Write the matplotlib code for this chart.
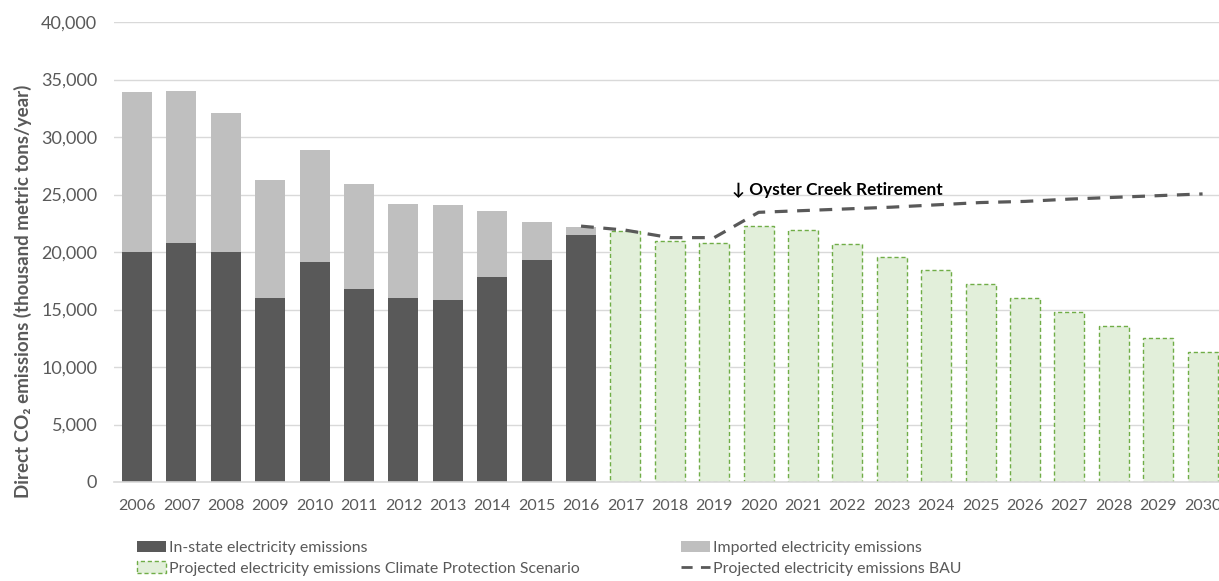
import matplotlib
matplotlib.use('Agg')
import matplotlib.pyplot as plt
from matplotlib.patches import Patch
from matplotlib.lines import Line2D
import numpy as np

plt.rcParams['font.family'] = ['Lato', 'DejaVu Sans']

# Datos (miles de toneladas metricas / año)
years = [str(y) for y in range(2006, 2031)]
hist_years = years[:11]
proj_years = years[11:]
in_state = [20000, 20750, 20000, 16000, 19100, 16800, 16000, 15800, 17850, 19300, 21500]
total_hist = [33900, 34000, 32100, 26300, 28900, 25900, 24150, 24050, 23550, 22650, 22200]
imported = [t - s for t, s in zip(total_hist, in_state)]
climate_scenario = [21800, 21000, 20750, 22300, 21900, 20700, 19600, 18400, 17200,
                    16000, 14800, 13600, 12500, 11300]
bau_years = years[10:]
bau = [22250, 21900, 21250, 21250, 23450, 23600, 23750, 23900, 24100, 24300,
       24400, 24600, 24750, 24900, 25050]

dark = '#595959'
light = '#BFBFBF'
green_fill = '#E2EFDA'
green_edge = '#70AD47'
text_col = '#595959'

fig = plt.figure(figsize=(12.19, 5.81), dpi=100)
ax = fig.add_axes([114 / 1219, 1 - 482 / 581, 1 - 114 / 1219, 460 / 581])

x_all = np.arange(len(years))
x_hist = x_all[:11]
x_proj = x_all[11:]
x_bau = x_all[10:]
w = 0.676

ax.bar(x_hist, in_state, w, color=dark, zorder=2)
ax.bar(x_hist, imported, w, bottom=in_state, color=light, zorder=2)
ax.bar(x_proj, climate_scenario, w, facecolor=green_fill, edgecolor=green_edge,
       linewidth=1, linestyle=(0, (3, 2)), zorder=2)
ax.plot(x_bau, bau, color=dark, linewidth=2.3, dashes=(4, 3), zorder=3)

# Anotacion del cierre de Oyster Creek
ax.annotate('↓ Oyster Creek Retirement', xy=(13.4, 25400), xycoords='data',
            fontsize=12.4, fontweight='bold', color='black', ha='left', va='center')

ax.set_ylim(0, 40000)
ax.set_xlim(-0.52, 24.37)
ax.set_yticks(range(0, 40001, 5000))
ax.set_yticklabels([f'{v:,}' for v in range(0, 40001, 5000)])
ax.set_xticks(x_all)
ax.set_xticklabels(years)
ax.grid(axis='y', color='#D9D9D9', linewidth=1, zorder=0)
ax.set_axisbelow(True)
for s in ['top', 'right', 'left']:
    ax.spines[s].set_visible(False)
ax.spines['bottom'].set_color('#D9D9D9')
ax.spines['bottom'].set_linewidth(1.2)
ax.tick_params(axis='both', length=0, colors=text_col)
ax.tick_params(axis='y', pad=12, labelsize=13)
ax.tick_params(axis='x', pad=12, labelsize=11.5)

ax.set_ylabel('Direct CO₂ emissions (thousand metric tons/year)', fontsize=13.5,
              fontweight='bold', color=text_col)
ax.yaxis.set_label_coords(-0.0742, 0.414)

# Leyenda en dos columnas
h1 = [Patch(facecolor=dark, edgecolor='none'),
      Patch(facecolor=green_fill, edgecolor=green_edge, linestyle=(0, (3, 2)), linewidth=1)]
l1 = ['In-state electricity emissions',
      'Projected electricity emissions Climate Protection Scenario']
h2 = [Patch(facecolor=light, edgecolor='none'),
      Line2D([0], [0], color=dark, linewidth=2, dashes=(4, 3))]
l2 = ['Imported electricity emissions', 'Projected electricity emissions BAU']
for handles, labels, xpos in [(h1, l1, 137 / 1219), (h2, l2, 681 / 1219)]:
    leg = fig.legend(handles, labels, loc='upper left', bbox_to_anchor=(xpos, 1 - 541 / 581),
                     frameon=False, fontsize=11.4, handlelength=1.85, handleheight=0.7,
                     handletextpad=0.15, labelspacing=0.4, borderpad=0, borderaxespad=0)
    for t in leg.get_texts():
        t.set_color(text_col)

fig.savefig('out.png', dpi=100)
